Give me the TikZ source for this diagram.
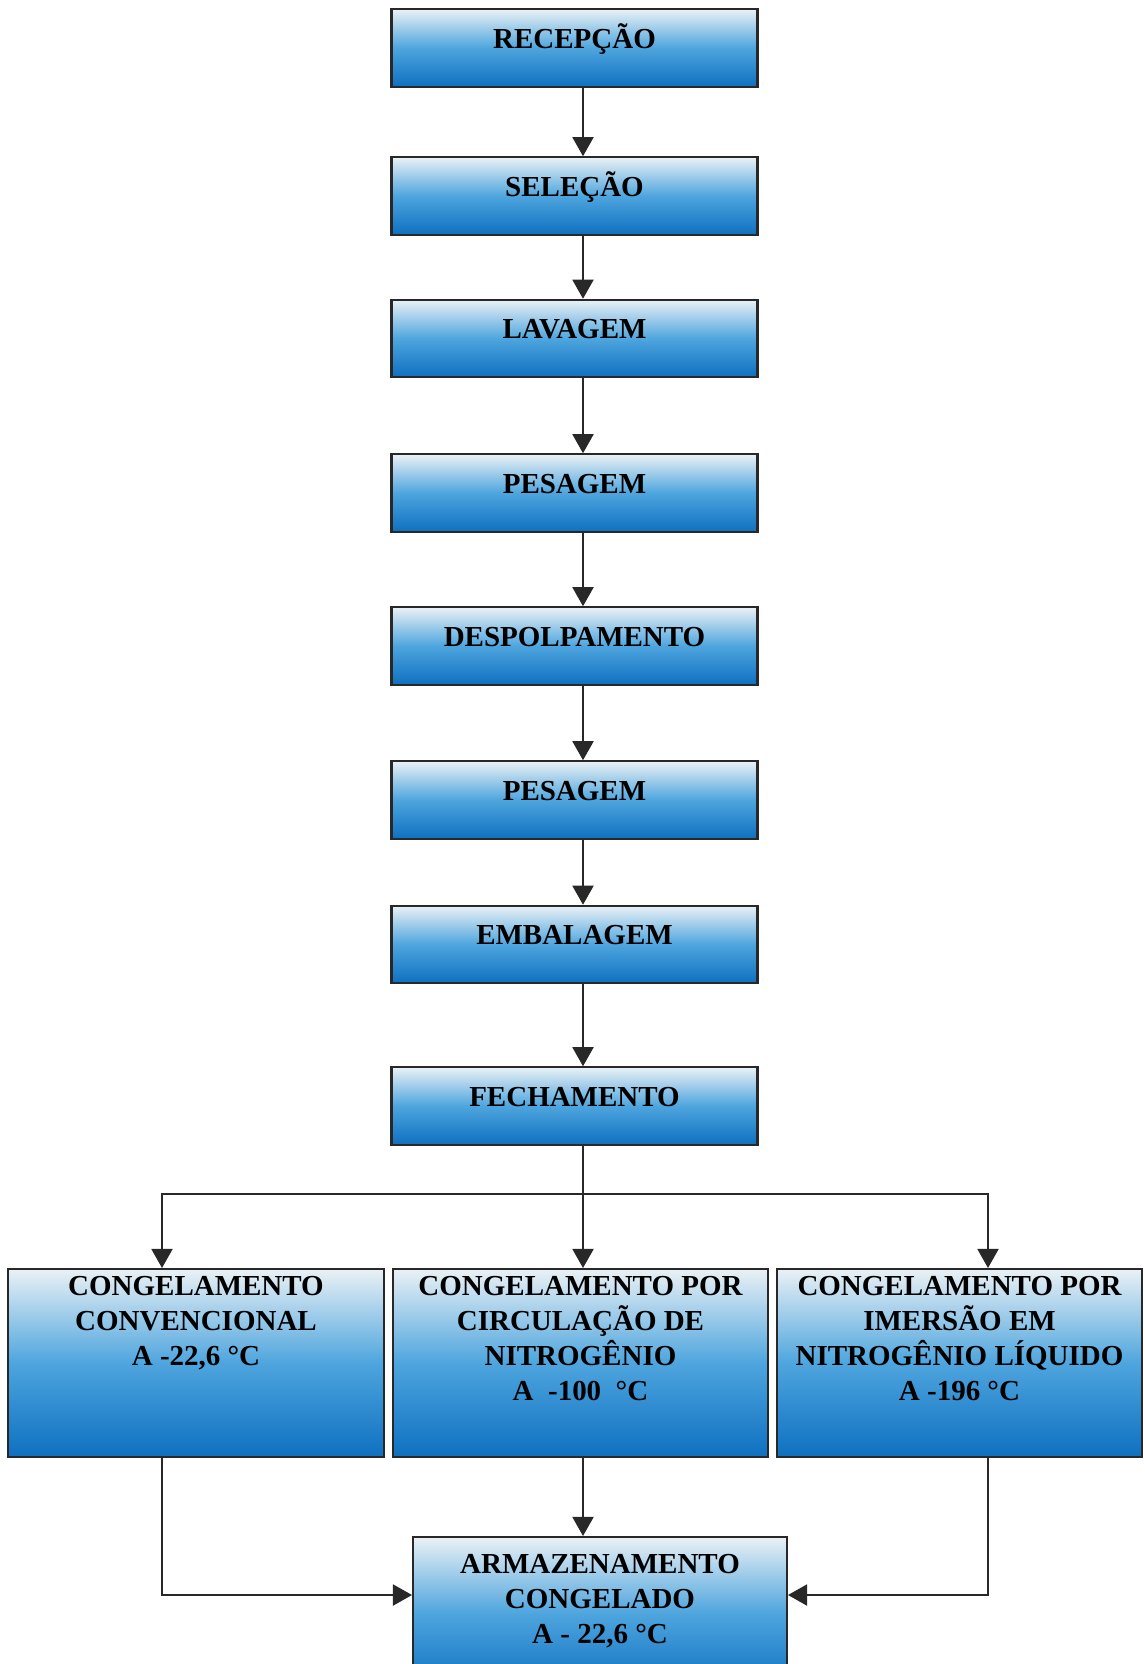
\documentclass[tikz,border=0pt]{standalone}
\usepackage{fontspec}
\setmainfont{Liberation Serif}
\usepackage{tikz}
\usetikzlibrary{positioning,calc,arrows.meta}
\definecolor{FlowBlue}{RGB}{14,112,192}
\definecolor{FlowMid}{RGB}{78,165,222}
\definecolor{FlowLight}{RGB}{234,241,245}
\definecolor{FlowEdge}{RGB}{40,40,40}
\tikzset{
    stepbox/.style={rectangle, draw=FlowEdge, line width=1.2pt,
        top color=FlowLight, bottom color=FlowBlue, middle color=FlowMid,
        minimum width=7.32cm, minimum height=1.55cm, inner sep=0pt,
        font=\bfseries\fontsize{16.5}{20}\selectfont,
        text height=8pt, text depth=8pt},
    freezebox/.style={rectangle, draw=FlowEdge, line width=1.2pt,
        top color=FlowLight, bottom color=FlowBlue, middle color=FlowMid,
        minimum height=3.76cm, inner sep=0pt},
    boxtext/.style={anchor=north, align=center, inner xsep=0pt, inner ysep=4.5pt,
        font=\bfseries\fontsize{16.5}{20}\selectfont},
    flow/.style={draw=FlowEdge, line width=1.1pt, -{Triangle[width=0.42cm, length=0.38cm]}},
    plain/.style={draw=FlowEdge, line width=1.1pt}
}
\begin{document}
\begin{tikzpicture}[x=0.02cm, y=-0.02cm]
    \useasboundingbox (0,0) rectangle (1144,1664);
    \clip (0,0) rectangle (1144,1664);
    % Etapas em coluna
    \node[stepbox] (rec)  at (574.5,48)    {RECEPÇÃO};
    \node[stepbox] (sel)  at (574.5,196)   {SELEÇÃO};
    \node[stepbox] (lav)  at (574.5,338.5) {LAVAGEM};
    \node[stepbox] (pes1) at (574.5,493)   {PESAGEM};
    \node[stepbox] (desp) at (574.5,646)   {DESPOLPAMENTO};
    \node[stepbox] (pes2) at (574.5,800)   {PESAGEM};
    \node[stepbox] (emb)  at (574.5,944.5) {EMBALAGEM};
    \node[stepbox] (fech) at (574.5,1106)  {FECHAMENTO};
    % Tipos de congelamento
    \node[freezebox, minimum width=7.52cm,
        label={[boxtext]north:{CONGELAMENTO\\CONVENCIONAL\\A -22,6 °C}}] (conv) at (196,1363) {};
    \node[freezebox, minimum width=7.5cm,
        label={[boxtext]north:{CONGELAMENTO POR\\CIRCULAÇÃO DE\\NITROGÊNIO\\A\ \ -100\ \ °C}}] (circ) at (580.5,1363) {};
    \node[freezebox, minimum width=7.3cm,
        label={[boxtext]north:{CONGELAMENTO POR\\IMERSÃO EM\\NITROGÊNIO LÍQUIDO\\A -196 °C}}] (imer) at (959.5,1363) {};
    \node[freezebox, minimum width=7.48cm, minimum height=3.06cm,
        label={[boxtext, inner ysep=0.36cm]north:{ARMAZENAMENTO\\CONGELADO\\A - 22,6 °C}}] (arm) at (600,1613.5) {};
    % Ligações
    \coordinate (axis) at (583,0);
    \coordinate (leftx) at (162,0);
    \coordinate (rightx) at (988,0);
    \coordinate (split) at (583,1194);
    \coordinate (joinrow) at (0,1595);
    \foreach \a/\b in {rec/sel, sel/lav, lav/pes1, pes1/desp, desp/pes2, pes2/emb, emb/fech}
        \draw[flow] (\a.south -| axis) -- (\b.north -| axis);
    \draw[plain] (fech.south -| axis) -- (split);
    \draw[flow] (split) -| (conv.north -| leftx);
    \draw[flow] (split) -- (circ.north -| axis);
    \draw[flow] (split) -| (imer.north -| rightx);
    \draw[flow] (circ.south -| axis) -- (arm.north -| axis);
    \draw[flow] (conv.south -| leftx) |- (joinrow -| arm.west);
    \draw[flow] (imer.south -| rightx) |- (joinrow -| arm.east);
\end{tikzpicture}
\end{document}
